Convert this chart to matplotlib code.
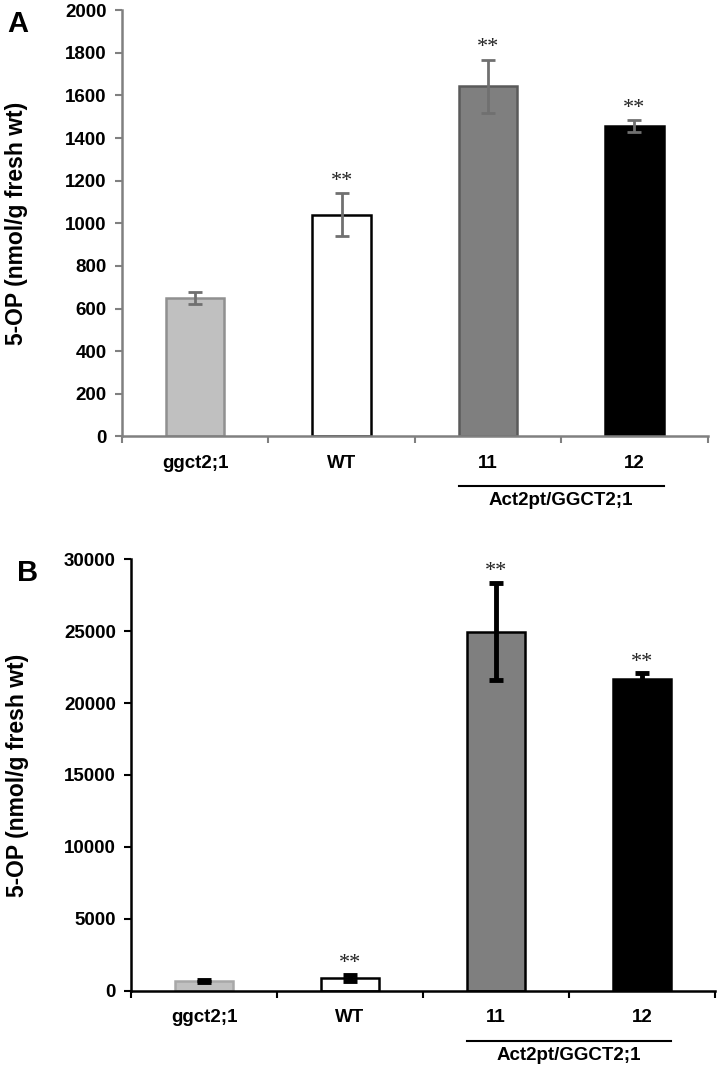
import matplotlib
matplotlib.use("Agg")
import matplotlib.pyplot as plt
import matplotlib.transforms as mtransforms

plt.rcParams['font.family'] = ['Liberation Sans', 'DejaVu Sans']

groups = ['ggct2;1', 'WT', '11', '12']
transgenic = 'Act2pt/GGCT2;1'

vals_a = [650, 1040, 1642, 1455]
err_a = [30, 100, 125, 28]
stars_a = ['', '**', '**', '**']

vals_b = [700, 900, 24950, 21700]
err_b = [60, 200, 3370, 350]
stars_b = ['', '**', '**', '**']

fills = ['#c0c0c0', 'white', '#7f7f7f', 'black']

fig = plt.figure(figsize=(7.17, 10.74), dpi=100)

def panel(rect, vals, errs, stars, ymax, ystep, spine_col, err_col, err_lw, edges, letter, star_pad, ylab_x):
    ax = fig.add_axes(rect)
    x = range(len(groups))
    ax.bar(x, vals, width=0.4, color=fills, edgecolor=edges, linewidth=1.8, zorder=2)
    ax.errorbar(x, vals, yerr=errs, fmt='none', ecolor=err_col, elinewidth=err_lw,
                capsize=5, capthick=err_lw, zorder=3)
    for i, s in enumerate(stars):
        if s:
            ax.text(i, vals[i] + errs[i] + star_pad, s, ha='center', va='bottom',
                    fontsize=16, family='Liberation Serif', color='#222222')
    ax.set_xlim(-0.5, 3.5)
    ax.set_ylim(0, ymax)
    ax.set_yticks(range(0, ymax + 1, ystep))
    ax.set_xticks([-0.5, 0.5, 1.5, 2.5, 3.5])
    ax.set_xticklabels([])
    ax.set_xticks(list(x), minor=True)
    ax.set_xticklabels(groups, minor=True)
    ax.tick_params(axis='x', which='minor', length=0, pad=13, labelsize=13.5)
    ax.tick_params(axis='x', which='major', length=5, color=spine_col, width=1.5)
    ax.tick_params(axis='y', length=5, color=spine_col, width=1.5, labelsize=13.5, pad=6)
    for t in ax.get_xticklabels(minor=True) + ax.get_yticklabels():
        t.set_fontweight('bold')
    for s in ['top', 'right']:
        ax.spines[s].set_visible(False)
    for s in ['left', 'bottom']:
        ax.spines[s].set_color(spine_col)
        ax.spines[s].set_linewidth(1.8)
    ax.set_ylabel('5-OP (nmol/g fresh wt)', fontsize=16.5, fontweight='bold')
    ax.yaxis.set_label_coords(ylab_x, 0.5)
    # group bracket under the transgenic lines
    tr = mtransforms.blended_transform_factory(ax.transData, ax.transAxes)
    ax.plot([1.8, 3.2], [-0.116, -0.116], transform=tr, color='black', lw=1.5, clip_on=False)
    ax.text(2.5, -0.13, transgenic, transform=tr, ha='center', va='top',
            fontsize=13.5, fontweight='bold')
    ax.text(-0.195, 1.0, letter, transform=ax.transAxes, ha='left', va='top',
            fontsize=21, fontweight='bold')
    return ax

panel([0.170, 0.5936, 0.817, 0.397], vals_a, err_a, stars_a, 2000, 200,
      '#808080', '#707070', 2, ['#909090', 'black', '#5a5a5a', 'black'], 'A', 12, -0.16)
panel([0.183, 0.0773, 0.814, 0.4022], vals_b, err_b, stars_b, 30000, 5000,
      'black', 'black', 3.5, ['#a8a8a8', 'black', 'black', 'black'], 'B', 120, -0.175)

fig.savefig('out.png', dpi=100)
